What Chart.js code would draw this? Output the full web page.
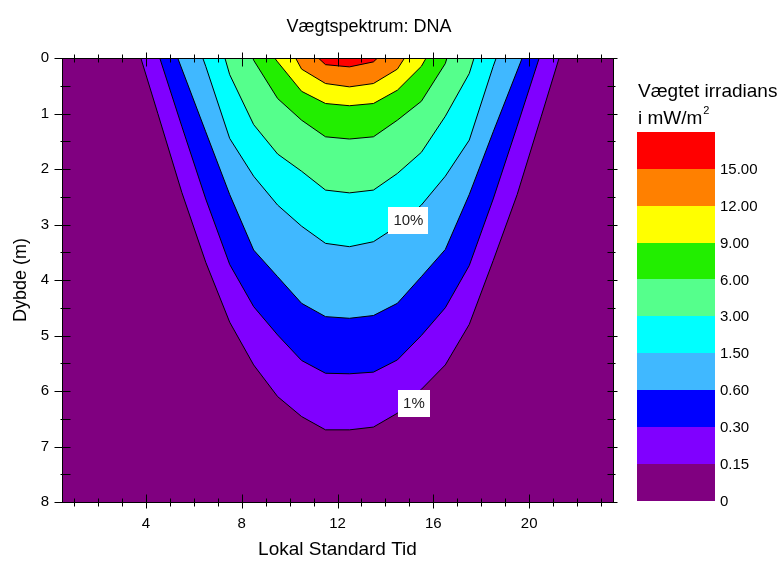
<!DOCTYPE html>
<html>
<head>
<meta charset="utf-8">
<title>Vægtspektrum: DNA</title>
<script src="https://cdn.jsdelivr.net/npm/chart.js@4/dist/chart.umd.min.js"></script>
<style>
  html, body { margin: 0; padding: 0; background: #fff; }
  #wrap { width: 783px; height: 563px; }
</style>
</head>
<body>
<div id="wrap"><canvas id="c" width="783" height="563"></canvas></div>
<script>
// Isolinjer for vægtet irradians: [lokal standard tid (h), dybde (m)]
const kontur_0_15 = [[3.79,0],[4.5,1.0],[5.5,2.42],[6.5,3.68],[7.5,4.76],[8.5,5.53],[9.5,6.10],[10.5,6.46],[11.5,6.70],[12.5,6.70],[13.5,6.65],[14.5,6.40],[15.5,5.97],[16.5,5.53],[17.5,4.80],[18.5,3.65],[19.5,2.46],[20.5,1.06],[21.25,0]];
const kontur_0_30 = [[4.58,0],[5.5,1.23],[6.5,2.54],[7.5,3.72],[8.5,4.48],[9.5,4.99],[10.5,5.45],[11.5,5.68],[12.5,5.69],[13.5,5.66],[14.5,5.44],[15.5,5.0],[16.5,4.5],[17.5,3.74],[18.5,2.54],[19.5,1.23],[20.42,0]];
const kontur_0_60 = [[5.33,0],[6.5,1.33],[7.5,2.46],[8.5,3.46],[9.5,3.94],[10.5,4.42],[11.5,4.66],[12.5,4.69],[13.5,4.64],[14.5,4.42],[15.5,3.94],[16.5,3.45],[17.5,2.46],[18.5,1.33],[19.71,0]];
const kontur_1_50 = [[6.375,0],[6.5,0.15],[7.5,1.45],[8.5,2.13],[9.5,2.65],[10.5,3.03],[11.5,3.34],[12.5,3.40],[13.5,3.31],[14.5,3.03],[15.5,2.65],[16.5,2.13],[17.5,1.48],[18.5,0.15],[18.625,0]];
const kontur_3_00 = [[7.3,0],[7.5,0.3],[8.5,1.2],[9.5,1.73],[10.5,2.04],[11.5,2.38],[12.5,2.43],[13.5,2.38],[14.5,2.08],[15.5,1.7],[16.5,1.05],[17.5,0.28],[17.7,0]];
const kontur_6_00 = [[8.47,0],[8.5,0.04],[9.5,0.73],[10.5,1.12],[11.5,1.42],[12.5,1.46],[13.5,1.42],[14.5,1.12],[15.5,0.78],[16.5,0.1],[16.57,0]];
const kontur_9_00 = [[9.375,0],[9.5,0.07],[10.5,0.6],[11.5,0.82],[12.5,0.86],[13.5,0.82],[14.5,0.58],[15.5,0.15],[15.7,0]];
const kontur_12_00 = [[10.25,0],[10.5,0.2],[11.5,0.46],[12.5,0.52],[13.5,0.46],[14.5,0.2],[14.8,0]];
const kontur_15_00 = [[11.2,0],[11.5,0.12],[12.5,0.16],[13.5,0.07],[13.67,0]];

// Hele dybdeområdet under laveste niveau (0 - 0.15)
const bund = [[0.5,8],[23.5,8]];

// Niveauer og farver, fra højeste til laveste bånd
const niveauEtiketter = ['15.00','12.00','9.00','6.00','3.00','1.50','0.60','0.30','0.15','0'];
const baandFarver = ['#FF0000','#FF8000','#FFFF00','#22EE00','#55FF8C','#00FFFF','#40B8FF','#0000FF','#8000FF','#800080'];

// Isolinjer i samme rækkefølge som båndfarverne (højeste først)
const konturer = [kontur_15_00, kontur_12_00, kontur_9_00, kontur_6_00, kontur_3_00, kontur_1_50, kontur_0_60, kontur_0_30, kontur_0_15];

// Procent-etiketter på isolinjerne: [tid, dybde, tekst]
const procentEtiketter = [[14.96, 2.92, '10%'], [15.19, 6.22, '1%']];

// Akseinddeling
const tidTicks = [4, 8, 12, 16, 20];
const tidMin = 0.5, tidMax = 23.5;
const dybdeMin = 0, dybdeMax = 8;

const FONT = "'Liberation Sans', Arial, Helvetica, sans-serif";
Chart.defaults.font.family = FONT;
Chart.defaults.color = '#000';

const toXY = arr => arr.map(p => ({ x: p[0], y: p[1] }));

const datasets = konturer.map((k, i) => ({
  data: toXY(k),
  borderColor: '#000',
  borderWidth: 1,
  backgroundColor: baandFarver[i],
  fill: { value: 0 },
  pointRadius: 0,
  tension: 0
}));
datasets.push({
  data: toXY(bund),
  borderWidth: 0,
  borderColor: 'rgba(0,0,0,0)',
  backgroundColor: baandFarver[baandFarver.length - 1],
  fill: { value: 0 },
  pointRadius: 0
});

// Ramme, tick-streger og etiketter på isolinjerne
const rammePlugin = {
  id: 'ramme',
  afterDatasetsDraw(chart) {
    const { ctx, chartArea: a, scales: { x, y } } = chart;
    ctx.save();
    ctx.strokeStyle = '#000';
    ctx.lineWidth = 1;

    // procent-etiketter
    ctx.font = '15px ' + FONT;
    ctx.textAlign = 'center';
    ctx.textBaseline = 'middle';
    procentEtiketter.forEach(([t, d, txt]) => {
      const px = x.getPixelForValue(t), py = y.getPixelForValue(d);
      const w = ctx.measureText(txt).width + 10, h = 27;
      ctx.fillStyle = '#fff';
      ctx.fillRect(Math.round(px - w / 2), Math.round(py - h / 2), Math.round(w), h);
      ctx.fillStyle = '#222';
      ctx.fillText(txt, px, py + 1);
    });

    const L = Math.round(a.left) + 0.5, R = Math.round(a.right) + 0.5;
    const T = Math.round(a.top) + 0.5, B = Math.round(a.bottom) + 0.5;
    ctx.beginPath();
    ctx.rect(L, T, R - L, B - T);
    ctx.stroke();

    ctx.beginPath();
    for (let t = Math.ceil(tidMin); t <= tidMax; t++) {
      const major = tidTicks.includes(t);
      const px = Math.round(x.getPixelForValue(t)) + 0.5;
      const out = major ? 6 : 4, inn = major ? 8 : 4;
      ctx.moveTo(px, B + out); ctx.lineTo(px, B - inn);
      ctx.moveTo(px, T - out); ctx.lineTo(px, T + inn);
    }
    for (let d = dybdeMin; d <= dybdeMax; d += 0.5) {
      const major = Number.isInteger(d);
      const py = Math.round(y.getPixelForValue(d)) + 0.5;
      const out = major ? 8 : 2, inn = 8;
      ctx.moveTo(L - out, py); ctx.lineTo(L + inn, py);
      ctx.moveTo(R + (major ? 4 : 2), py); ctx.lineTo(R - 6, py);
    }
    ctx.stroke();
    ctx.restore();
  }
};

// Farveskala med niveauer til højre for plottet
const skalaPlugin = {
  id: 'skala',
  afterDraw(chart) {
    const { ctx } = chart;
    const left = 637, width = 78, top = 132, rowH = 36.85;
    ctx.save();
    baandFarver.forEach((c, i) => {
      ctx.fillStyle = c;
      const y0 = Math.round(top + i * rowH), y1 = Math.round(top + (i + 1) * rowH);
      ctx.fillRect(left, y0, width, y1 - y0);
    });
    ctx.fillStyle = '#000';
    ctx.font = '15px ' + FONT;
    ctx.textAlign = 'left';
    ctx.textBaseline = 'middle';
    niveauEtiketter.forEach((lbl, i) => {
      ctx.fillText(lbl, left + width + 5, top + (i + 1) * rowH + 1);
    });
    ctx.font = '19px ' + FONT;
    ctx.fillText('Vægtet irradians', left + 1, 92);
    ctx.fillText('i mW/m', left + 1, 119);
    const w = ctx.measureText('i mW/m').width;
    ctx.font = '11px ' + FONT;
    ctx.fillText('2', left + 1 + w + 1, 111);
    ctx.restore();
  }
};

new Chart(document.getElementById('c'), {
  type: 'line',
  data: { datasets },
  options: {
    responsive: false,
    animation: false,
    events: [],
    layout: { padding: { left: 0, right: 45, top: 0, bottom: 0 } },
    plugins: {
      legend: { display: false },
      tooltip: { enabled: false },
      title: {
        display: true,
        text: 'Vægtspektrum: DNA',
        font: { size: 18, weight: 'normal' },
        color: '#000',
        padding: { top: 16, bottom: 20.4 }
      }
    },
    scales: {
      x: {
        type: 'linear',
        position: 'bottom',
        min: tidMin,
        max: tidMax,
        afterBuildTicks: s => { s.ticks = tidTicks.map(v => ({ value: v })); },
        ticks: { font: { size: 15 }, color: '#000', padding: 13, maxRotation: 0, autoSkip: false },
        grid: { display: false, drawTicks: false },
        border: { display: false },
        title: { display: true, text: 'Lokal Standard Tid', font: { size: 19 }, color: '#000', padding: { top: 0, bottom: 2 } },
        afterFit: s => { s.height = 61; }
      },
      y: {
        type: 'linear',
        position: 'left',
        min: dybdeMin,
        max: dybdeMax,
        reverse: true,
        ticks: { stepSize: 1, font: { size: 15 }, color: '#000', padding: 13 },
        grid: { display: false, drawTicks: false },
        border: { display: false },
        title: { display: true, text: 'Dybde (m)', font: { size: 18 }, color: '#000', padding: 10 },
        afterFit: s => { s.width = 62; }
      },
      // plads til farveskalaen til højre
      skala: {
        type: 'linear',
        position: 'right',
        min: dybdeMin,
        max: dybdeMax,
        ticks: { display: false },
        grid: { display: false, drawTicks: false },
        border: { display: false },
        afterFit: s => { s.width = 125; }
      }
    }
  },
  plugins: [rammePlugin, skalaPlugin]
});
</script>
</body>
</html>
